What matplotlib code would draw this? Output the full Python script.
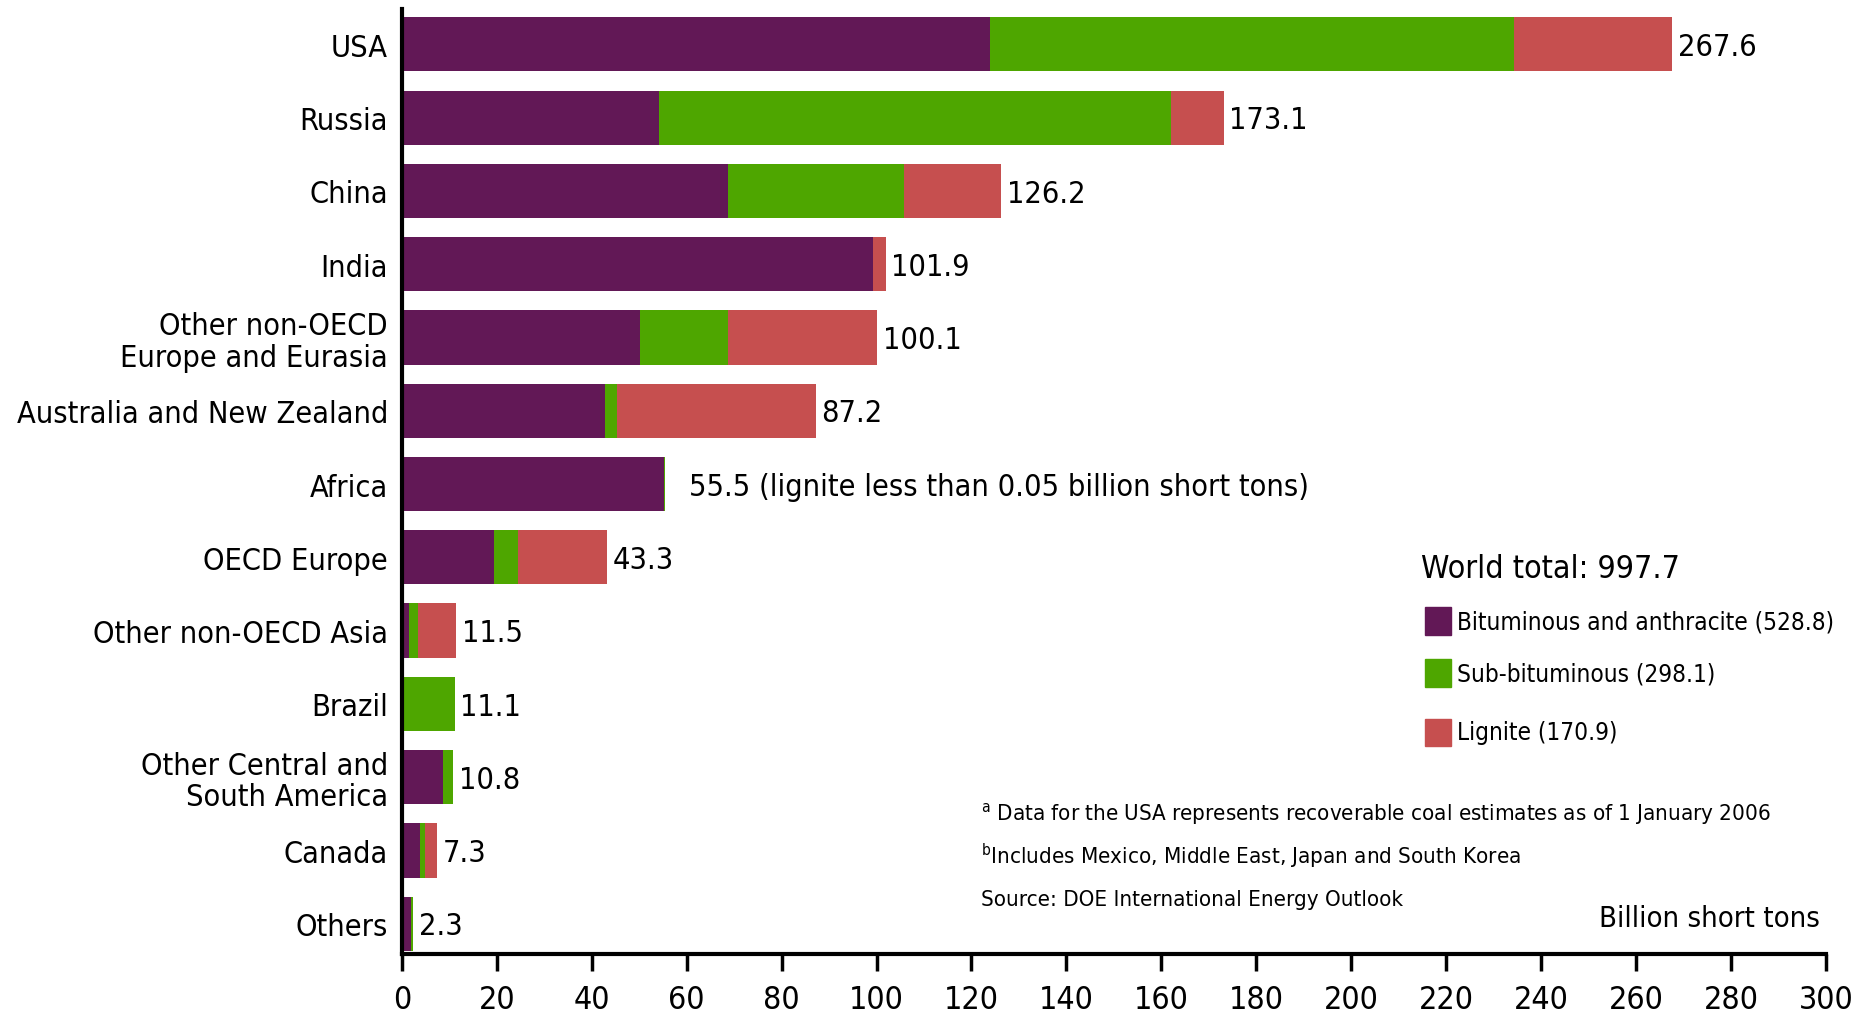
import matplotlib.pyplot as plt
import numpy as np

plt.rcParams['font.family'] = ['Liberation Sans Narrow', 'DejaVu Sans']
plt.rcParams['font.stretch'] = 'condensed'

# Data (billion short tons)
regions = ['USA', 'Russia', 'China', 'India', 'Other non-OECD\nEurope and Eurasia',
           'Australia and New Zealand', 'Africa', 'OECD Europe', 'Other non-OECD Asia',
           'Brazil', 'Other Central and\nSouth America', 'Canada', 'Others']
bituminous = [123.8, 54.1, 68.6, 99.3, 50.1, 42.8, 55.3, 19.4, 1.5, 0.0, 8.6, 3.8, 2.0]
subbituminous = [110.6, 107.9, 37.1, 0.0, 18.7, 2.5, 0.2, 5.0, 1.8, 11.1, 2.2, 1.0, 0.3]
lignite = [33.2, 11.1, 20.5, 2.6, 31.3, 41.9, 0.0, 18.9, 8.2, 0.0, 0.0, 2.5, 0.0]
totals = [267.6, 173.1, 126.2, 101.9, 100.1, 87.2, 55.5, 43.3, 11.5, 11.1, 10.8, 7.3, 2.3]
total_labels = ['267.6', '173.1', '126.2', '101.9', '100.1', '87.2',
                '55.5 (lignite less than 0.05 billion short tons)', '43.3',
                '11.5', '11.1', '10.8', '7.3', '2.3']
legend_labels = ['Bituminous and anthracite (528.8)', 'Sub-bituminous (298.1)', 'Lignite (170.9)']

c_bit = '#621856'
c_sub = '#4ea600'
c_lig = '#c64f4f'

y = np.arange(len(regions))
bit = np.array(bituminous)
sub = np.array(subbituminous)
lig = np.array(lignite)

fig = plt.figure(figsize=(18.65, 10.2), dpi=100)
ax = fig.add_axes([0.2155, 0.064, 0.7635, 0.926])

h = 0.74
ax.barh(y, bit, h, color=c_bit, label=legend_labels[0])
ax.barh(y, sub, h, left=bit, color=c_sub, label=legend_labels[1])
ax.barh(y, lig, h, left=bit + sub, color=c_lig, label=legend_labels[2])

for i, (t, lab) in enumerate(zip(totals, total_labels)):
    off = 5 if i == 6 else 1.2
    ax.text(t + off, y[i] + 0.03, lab, va='center', ha='left', fontsize=22)

ax.set_xlim(0, 300)
ax.set_ylim(len(regions) - 1 + 0.41, -0.48)
ax.set_xticks(np.arange(0, 301, 20))
ax.set_yticks(y)
ax.set_yticklabels(regions, fontsize=22, linespacing=1.1)
ax.tick_params(axis='x', labelsize=23, length=12, width=2.5, direction='out', pad=10)
ax.tick_params(axis='y', length=0, pad=10)

for s in ['top', 'right']:
    ax.spines[s].set_visible(False)
ax.spines['left'].set_linewidth(3)
ax.spines['bottom'].set_linewidth(3)

# Legend block
fig.text(0.762, 0.442, 'World total: 997.7', fontsize=23, va='center', ha='left')
ly = [0.390, 0.339, 0.281]
for yy, col, lab in zip(ly, [c_bit, c_sub, c_lig], legend_labels):
    fig.patches.append(plt.Rectangle((0.764, yy - 0.0135), 0.014, 0.027, color=col,
                                     transform=fig.transFigure, figure=fig))
    fig.text(0.781, yy, lab, fontsize=17.5, va='center', ha='left')

# Footnotes
fig.text(0.526, 0.202, '$^{\\mathrm{a}}$ Data for the USA represents recoverable coal estimates as of 1 January 2006',
         fontsize=16, va='center', ha='left')
fig.text(0.526, 0.160, '$^{\\mathrm{b}}$Includes Mexico, Middle East, Japan and South Korea',
         fontsize=16, va='center', ha='left')
fig.text(0.526, 0.118, 'Source: DOE International Energy Outlook',
         fontsize=16, va='center', ha='left')
fig.text(0.976, 0.099, 'Billion short tons', fontsize=21, va='center', ha='right')

fig.savefig('out.png', dpi=100)
